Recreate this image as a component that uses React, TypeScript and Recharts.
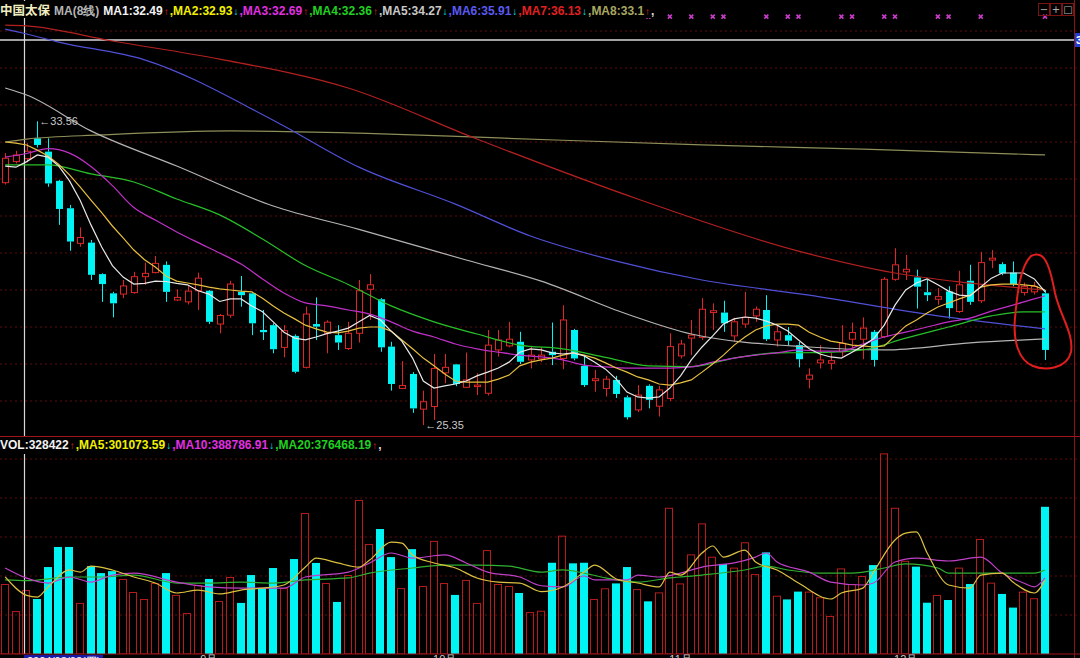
import React from "react";
import {
  ComposedChart,
  Bar,
  Line,
  Scatter,
  XAxis,
  YAxis,
  CartesianGrid,
  ReferenceLine,
  ReferenceDot,
} from "recharts";

// daily candles, oldest first
const opens = [
  31.9, 32.47, 32.55, 33.1, 32.74, 31.95, 31.21, 30.26, 30.28, 29.43,
  28.91, 28.89, 28.93, 29.36, 29.47, 29.68, 28.73, 28.68, 28.98, 28.98,
  28.08, 28.32, 28.95, 28.91, 27.92, 28.05, 27.45, 27.76, 26.91, 28.08,
  27.83, 27.78, 27.42, 27.83, 29.02, 28.75, 27.47, 26.34, 26.73, 25.78,
  25.85, 26.76, 26.99, 26.37, 26.39, 26.21, 27.38, 27.49, 27.6, 27.11,
  27.14, 27.33, 27.15, 27.92, 26.95, 26.55, 26.34, 26.57, 26.1, 25.76,
  26.41, 25.86, 26.07, 27.22, 27.7, 27.72, 28.39, 28.39, 27.76, 28.08,
  28.3, 28.46, 27.65, 27.78, 27.51, 26.59, 27.03, 27.02, 27.33, 27.67,
  27.67, 27.87, 27.74, 29.29, 29.49, 29.34, 28.94, 28.75, 28.96, 28.42,
  29.25, 28.71, 29.81, 29.7, 29.47, 28.93, 28.95, 28.91,
];
const highs = [
  32.7, 32.76, 32.97, 33.56, 33.1, 31.98, 31.3, 30.69, 30.35, 29.45,
  28.95, 29.27, 29.49, 29.74, 29.92, 29.77, 29.02, 29.14, 29.47, 29.0,
  28.35, 29.25, 29.38, 28.95, 28.46, 28.1, 28.05, 27.8, 28.55, 28.8,
  28.18, 28.05, 28.14, 29.27, 29.43, 28.78, 27.6, 27.08, 26.78, 26.28,
  27.27, 27.27, 27.0, 27.31, 26.75, 27.92, 27.92, 28.14, 27.87, 27.49,
  27.45, 28.12, 28.59, 27.95, 27.24, 26.84, 26.68, 26.68, 26.15, 26.43,
  26.45, 26.41, 27.83, 27.65, 28.19, 28.78, 28.64, 28.71, 28.25, 28.95,
  28.55, 28.86, 28.05, 28.0, 27.6, 26.88, 27.51, 27.3, 28.05, 28.12,
  28.26, 27.92, 29.35, 30.13, 29.95, 29.55, 29.27, 29.05, 29.1, 29.52,
  29.68, 30.03, 30.08, 29.75, 29.77, 29.2, 29.22, 29.0,
];
const lows = [
  31.85, 32.42, 32.45, 32.85, 31.79, 30.76, 30.06, 30.17, 29.27, 28.68,
  28.26, 28.78, 28.9, 29.14, 29.45, 28.68, 28.7, 28.61, 28.46, 28.08,
  27.83, 28.25, 28.55, 27.78, 27.65, 27.29, 27.18, 26.75, 26.88, 27.65,
  27.29, 27.38, 27.38, 27.58, 28.19, 27.33, 26.28, 26.32, 25.68, 25.35,
  25.49, 26.48, 26.4, 26.35, 26.16, 26.15, 27.2, 27.45, 27.0, 26.88,
  27.05, 26.97, 26.86, 27.1, 26.38, 26.25, 26.12, 26.08, 25.5, 25.7,
  25.8, 25.58, 26.0, 27.15, 27.24, 27.65, 27.92, 27.87, 27.6, 27.98,
  28.14, 27.62, 27.47, 27.5, 26.91, 26.34, 26.88, 26.85, 27.2, 27.42,
  27.13, 26.93, 27.7, 29.25, 29.27, 28.5, 28.7, 28.6, 28.23, 28.38,
  28.6, 28.65, 29.59, 29.4, 29.1, 28.85, 28.88, 27.11,
];
const closes = [
  32.56, 32.65, 32.75, 32.92, 31.88, 31.19, 30.31, 30.42, 29.41, 29.16,
  28.64, 29.11, 29.36, 29.45, 29.72, 28.95, 28.8, 28.97, 29.32, 28.14,
  28.31, 29.16, 28.86, 28.1, 27.86, 27.4, 27.9, 26.79, 28.35, 28.01,
  28.13, 27.58, 27.83, 28.98, 29.14, 27.45, 26.46, 26.42, 25.8, 25.98,
  26.88, 26.91, 26.46, 26.57, 26.43, 27.51, 27.65, 27.67, 27.06, 27.24,
  27.24, 27.24, 28.19, 27.15, 26.43, 26.6, 26.59, 26.19, 25.56, 26.16,
  26.03, 26.3, 27.47, 27.54, 27.78, 28.48, 28.44, 28.1, 28.14, 28.26,
  28.48, 27.67, 27.87, 27.63, 27.13, 26.7, 27.11, 27.09, 27.56, 27.85,
  27.97, 27.11, 29.29, 29.68, 29.56, 29.09, 28.86, 28.82, 28.51, 29.14,
  28.68, 29.74, 29.86, 29.45, 29.16, 29.09, 29.1, 27.38,
];
// volume, thousand lots
const volumes = [
  359, 220, 328, 282, 446, 549, 549, 262, 451, 415,
  425, 385, 318, 282, 364, 415, 303, 210, 354, 385,
  272, 395, 262, 405, 338, 441, 338, 487, 723, 467,
  364, 267, 405, 790, 564, 641, 497, 338, 538, 349,
  580, 364, 303, 380, 262, 533, 359, 349, 313, 215,
  222, 468, 607, 465, 468, 282, 337, 362, 446, 333,
  270, 316, 750, 362, 511, 670, 499, 462, 443, 573,
  410, 521, 299, 280, 320, 320, 291, 195, 439, 359,
  400, 456, 1029, 750, 478, 448, 263, 303, 277, 443,
  359, 590, 366, 308, 238, 320, 286, 755,
];

// short averages, one value per day
const ma1 = [
  32.35, 32.32, 32.47, 32.65, 32.59, 32.35, 31.95, 31.42, 30.76, 30.16,
  29.66, 29.35, 29.16, 29.18, 29.24, 29.23, 29.18, 29.14, 28.98, 28.89,
  28.69, 28.76, 28.76, 28.57, 28.41, 28.14, 27.86, 27.7, 27.65, 27.73,
  27.82, 27.89, 27.97, 28.14, 28.31, 28.19, 27.89, 27.62, 27.16, 26.54,
  26.35, 26.41, 26.46, 26.54, 26.68, 26.78, 26.89, 27.05, 27.32, 27.41,
  27.38, 27.3, 27.27, 27.3, 27.22, 27.05, 26.86, 26.59, 26.24, 26.11,
  26.08, 26.11, 26.35, 26.68, 27.11, 27.46, 27.76, 28.08, 28.22, 28.27,
  28.24, 28.16, 28.05, 27.89, 27.65, 27.41, 27.27, 27.19, 27.16, 27.32,
  27.49, 27.68, 28.05, 28.59, 29.0, 29.19, 29.3, 29.14, 28.97, 28.86,
  28.84, 29.08, 29.32, 29.46, 29.46, 29.46, 29.3, 28.95,
];
const ma2 = [
  33.0, 32.97, 32.92, 32.78, 32.62, 32.39, 32.11, 31.78, 31.43, 31.09,
  30.73, 30.41, 30.08, 29.82, 29.62, 29.38, 29.24, 29.19, 29.14, 29.08,
  29.03, 29.0, 28.97, 28.95, 28.78, 28.57, 28.38, 28.22, 28.05, 27.95,
  27.86, 27.84, 27.89, 27.97, 28.0, 28.0, 27.89, 27.65, 27.41, 27.16,
  26.95, 26.73, 26.54, 26.51, 26.51, 26.51, 26.59, 26.7, 26.95, 27.05,
  27.11, 27.16, 27.24, 27.3, 27.24, 27.16, 27.03, 26.89, 26.78, 26.65,
  26.57, 26.46, 26.43, 26.49, 26.57, 26.78, 27.0, 27.24, 27.51, 27.73,
  27.92, 28.03, 28.08, 28.08, 28.05, 27.86, 27.73, 27.62, 27.57, 27.51,
  27.49, 27.46, 27.49, 27.76, 28.03, 28.19, 28.38, 28.54, 28.65, 28.76,
  28.86, 29.08, 29.14, 29.16, 29.16, 29.14, 29.11, 29.0,
];

// longer averages, read at [day, value]
const ma3: [number, number][] = [
  [0, 32.59], [2, 32.69], [4, 32.82], [6, 32.7], [8, 32.34], [10, 31.82], [12, 31.23],
  [14, 30.89], [16, 30.57], [18, 30.28], [20, 30.0], [22, 29.7], [24, 29.3], [26, 28.92],
  [28, 28.65], [30, 28.57], [32, 28.46], [34, 28.35], [36, 28.14], [38, 27.89], [40, 27.73],
  [42, 27.54], [44, 27.41], [46, 27.32], [48, 27.24], [50, 27.19], [52, 27.11], [54, 26.97],
  [56, 26.92], [58, 26.89], [60, 26.89], [62, 26.89], [64, 26.92], [66, 27.05], [68, 27.16],
  [70, 27.24], [72, 27.3], [74, 27.38], [76, 27.35], [78, 27.35], [80, 27.54], [82, 27.73],
  [84, 27.86], [86, 28.0], [88, 28.14], [90, 28.24], [92, 28.43], [94, 28.59], [96, 28.76],
  [97, 28.84],
];
const ma4: [number, number][] = [
  [0, 32.38], [4, 32.38], [8, 32.14], [12, 31.92], [16, 31.46], [20, 31.03], [24, 30.38],
  [28, 29.66], [32, 29.15], [36, 28.57], [40, 28.14], [44, 27.81], [48, 27.51], [52, 27.41],
  [56, 27.18], [60, 26.95], [64, 26.93], [68, 27.16], [72, 27.3], [76, 27.31], [80, 27.38],
  [84, 27.7], [88, 28.0], [92, 28.3], [95, 28.41], [97, 28.41],
];
const ma5: [number, number][] = [
  [0, 34.46], [2, 34.27], [8, 33.3], [16, 32.35], [25, 31.27], [33, 30.64], [43, 29.81],
  [50, 29.24], [58, 28.35], [64, 27.81], [75, 27.46], [82, 27.38], [90, 27.57], [97, 27.68],
];
const ma6: [number, number][] = [
  [0, 36.05], [2, 35.92], [5, 35.7], [13, 35.22], [25, 33.59], [33, 32.32], [42, 31.32],
  [49, 30.46], [57, 29.78], [65, 29.27], [75, 28.86], [87, 28.3], [97, 27.95],
];
const ma7: [number, number][] = [
  [0, 36.16], [2, 36.14], [10, 35.73], [20, 35.24], [32, 34.46], [44, 33.08], [59, 31.46],
  [74, 30.05], [83, 29.46], [89, 29.22], [97, 29.0],
];
const ma8: [number, number][] = [
  [0, 33.0], [2, 33.08], [9, 33.19], [21, 33.3], [33, 33.24], [46, 33.11], [65, 32.92],
  [80, 32.81], [97, 32.65],
];

// volume averages, thousand lots
const vma5: [number, number][] = [
  [0, 396], [2, 301], [3, 292], [4, 344], [6, 431], [7, 420], [8, 451], [10, 431], [12, 395],
  [14, 364], [16, 313], [18, 328], [20, 308], [22, 328], [24, 338], [26, 354], [28, 446],
  [29, 492], [31, 467], [33, 446], [34, 482], [36, 574], [37, 569], [38, 508], [40, 467],
  [42, 441], [44, 390], [46, 369], [48, 364], [50, 320], [52, 344], [54, 420], [55, 456],
  [57, 385], [59, 364], [61, 344], [62, 420], [63, 405], [65, 518], [66, 554], [67, 497],
  [69, 533], [70, 472], [72, 431], [74, 364], [77, 282], [78, 313], [80, 338], [81, 420],
  [83, 585], [84, 620], [85, 626], [86, 518], [88, 354], [90, 338], [91, 405], [93, 415],
  [94, 369], [96, 313], [97, 380],
];
const vma10: [number, number][] = [
  [0, 441], [2, 389], [4, 364], [6, 395], [8, 369], [10, 405], [12, 415], [16, 369], [19, 344],
  [22, 338], [26, 338], [28, 395], [32, 420], [34, 467], [36, 518], [38, 492], [41, 508],
  [43, 467], [45, 420], [48, 395], [50, 350], [52, 344], [54, 400], [55, 380], [58, 380],
  [59, 405], [61, 395], [63, 415], [65, 446], [68, 467], [70, 497], [71, 518], [72, 472],
  [75, 420], [77, 369], [80, 354], [81, 364], [83, 472], [85, 492], [88, 477], [91, 497],
  [93, 415], [95, 364], [96, 344], [97, 390],
];
const vma20: [number, number][] = [
  [0, 380], [2, 376], [6, 395], [9, 395], [12, 405], [16, 364], [19, 364], [22, 369], [25, 364],
  [28, 380], [32, 390], [34, 415], [38, 441], [41, 456], [44, 456], [47, 451], [50, 420],
  [52, 431], [54, 415], [56, 390], [59, 369], [62, 390], [65, 405], [69, 431], [71, 451],
  [73, 431], [76, 415], [79, 415], [82, 441], [84, 462], [87, 441], [88, 415], [92, 415],
  [96, 415], [97, 431],
];

const markDays = [60, 62, 64, 66, 67, 71, 73, 74, 78, 79, 82, 83, 87, 88, 91, 97];
const monthTicks = [19, 41, 63, 84];
const monthNames = ["9月", "10月", "11月", "12月"];
const priceGrid = [26, 27, 28, 29, 30, 31, 32, 33, 34, 35, 36];
const volGrid = [200, 400, 600, 800, 1000];

const priceLegend = [
  { label: "MA1:32.49", color: "#f2f2f2", up: true },
  { label: "MA2:32.93", color: "#f0f000", up: false },
  { label: "MA3:32.69", color: "#e030e0", up: true },
  { label: "MA4:32.36", color: "#20d020", up: true },
  { label: "MA5:34.27", color: "#c8c8c8", up: false },
  { label: "MA6:35.91", color: "#5a5af0", up: false },
  { label: "MA7:36.13", color: "#e02020", up: false },
  { label: "MA8:33.1", color: "#a8a860", up: true },
];
const volLegend = [
  { label: "VOL:328422", color: "#f2f2f2", up: true },
  { label: "MA5:301073.59", color: "#f0f000", up: false },
  { label: "MA10:388786.91", color: "#e030e0", up: false },
  { label: "MA20:376468.19", color: "#20d020", up: true },
];

const UP = "#e02626";
const DOWN = "#00f4f4";
const VOL_UP = "#b81b1b";
const GRID = "#5e0c0c";

const W = 1080;
const PRICE_H = 437;
const VOL_TOP = 437;
const VOL_PLOT_H = 217;
const VOL_AXIS_H = 23;
const X_DOMAIN: [number, number] = [-0.485, 100.26];
const PRICE_DOMAIN: [number, number] = [25.027, 36.838];
const VOL_DOMAIN: [number, number] = [0, 1113];
const CURSOR_X = 1.8;
const CURSOR_PRICE = 35.76;
const MARK_LEVEL = 36.39;

const lookup = (pts: [number, number][]) => new Map(pts);
const m3 = lookup(ma3), m4 = lookup(ma4), m5 = lookup(ma5), m6 = lookup(ma6), m7 = lookup(ma7), m8 = lookup(ma8);
const v5 = lookup(vma5), v10 = lookup(vma10), v20 = lookup(vma20);

const rows = opens.map((o, i) => ({
  i,
  open: o,
  high: highs[i],
  low: lows[i],
  close: closes[i],
  vol: volumes[i],
  ma1: ma1[i],
  ma2: ma2[i],
  ma3: m3.get(i),
  ma4: m4.get(i),
  ma5: m5.get(i),
  ma6: m6.get(i),
  ma7: m7.get(i),
  ma8: m8.get(i),
  vma5: v5.get(i),
  vma10: v10.get(i),
  vma20: v20.get(i),
}));

const marks = markDays.map((i) => ({ i, y: MARK_LEVEL }));

let hiIdx = 0;
let loIdx = 0;
highs.forEach((h, i) => { if (h > highs[hiIdx]) hiIdx = i; });
lows.forEach((l, i) => { if (l < lows[loIdx]) loIdx = i; });

const Candle = (p: any) => {
  const { x, y, width, height, payload } = p;
  if (x == null || y == null) return <g />;
  const top = Math.min(y, y + height);
  const h = Math.abs(height);
  const span = payload.high - payload.low || 0.0001;
  const k = h / span;
  const up = payload.close >= payload.open;
  const color = up ? UP : DOWN;
  const cx = Math.round(x + width / 2) + 0.5;
  const bTop = top + (payload.high - Math.max(payload.open, payload.close)) * k;
  const bBot = top + (payload.high - Math.min(payload.open, payload.close)) * k;
  const bh = Math.max(1, bBot - bTop);
  return (
    <g>
      <line x1={cx} x2={cx} y1={top} y2={bTop} stroke={color} />
      <line x1={cx} x2={cx} y1={bTop + bh} y2={top + h} stroke={color} />
      {up ? (
        <rect x={cx - 3} y={bTop} width={6} height={bh} fill="#000" stroke={color} />
      ) : (
        <rect x={cx - 3.5} y={bTop} width={7} height={bh} fill={DOWN} />
      )}
    </g>
  );
};

const VolBar = (p: any) => {
  const { x, y, width, height, payload } = p;
  if (x == null || !height) return <g />;
  const up = payload.close >= payload.open;
  const cx = Math.round(x + width / 2);
  return up ? (
    <rect x={cx - 3.5} y={y + 0.5} width={7} height={height - 0.5} fill="none" stroke={VOL_UP} />
  ) : (
    <rect x={cx - 4} y={y} width={8} height={height} fill={DOWN} />
  );
};

const Cross = (p: any) => {
  const { cx, cy } = p;
  return (
    <path
      d={`M${cx - 2},${cy - 2}L${cx + 2},${cy + 2}M${cx + 2},${cy - 2}L${cx - 2},${cy + 2}`}
      stroke="#c83cc8"
      strokeWidth={1.6}
    />
  );
};

const extremeLabel = (text: string) => (p: any) => (
  <text x={p.cx + 2} y={p.cy + 4} fill="#c8c8c8" fontSize={11} fontFamily="'Liberation Sans', Arial, sans-serif">
    {text}
  </text>
);

type LegendItem = { label: string; color: string; up: boolean };

const Legend = ({ head, items, top }: { head?: React.ReactNode; items: LegendItem[]; top: number }) => (
  <div
    style={{
      position: "absolute",
      left: 0,
      top,
      height: 17,
      paddingRight: 3,
      background: "#000",
      whiteSpace: "nowrap",
      font: "bold 12px 'Liberation Sans', Arial, sans-serif",
      lineHeight: "17px",
    }}
  >
    {head}
    {items.map((it, k) => (
      <span key={k}>
        <span style={{ color: it.color }}>
          {k > 0 ? "," : ""}
          {it.label}
        </span>
        <span style={{ color: it.up ? UP : DOWN, fontWeight: "normal", margin: "0 1px 0 1px", fontSize: 10 }}>
          {it.up ? "↑" : "↓"}
        </span>
      </span>
    ))}
    <span style={{ color: "#ddd" }}>,</span>
  </div>
);

const line = (key: string, color: string, width = 1.2, type: "linear" | "monotone" = "monotone") => (
  <Line
    key={key}
    dataKey={key}
    stroke={color}
    strokeWidth={width}
    dot={false}
    activeDot={false}
    type={type}
    connectNulls
    isAnimationActive={false}
  />
);

export default function App() {
  return (
    <div
      style={{
        position: "fixed",
        left: 0,
        top: 0,
        width: W,
        height: 658,
        background: "#000",
        overflow: "hidden",
        fontFamily: "'Liberation Sans', Arial, sans-serif",
      }}
    >
      {/* price panel */}
      <div style={{ position: "absolute", left: 0, top: 0 }}>
        <ComposedChart width={W} height={PRICE_H} data={rows} margin={{ top: 0, right: 0, bottom: 0, left: 0 }}>
          <CartesianGrid vertical={false} horizontalValues={priceGrid} stroke={GRID} strokeDasharray="2 3" />
          <XAxis type="number" dataKey="i" domain={X_DOMAIN} hide allowDataOverflow />
          <YAxis type="number" domain={PRICE_DOMAIN} hide allowDataOverflow />
          <ReferenceLine y={CURSOR_PRICE} stroke="#d8d8d8" strokeWidth={1.5} />
          <ReferenceLine x={CURSOR_X} stroke="#d8d8d8" strokeWidth={1.2} />
          <Bar
            dataKey={(d: any) => [d.low, d.high]}
            shape={<Candle />}
            barSize={7}
            isAnimationActive={false}
          />
          {line("ma8", "#8e8e58")}
          {line("ma7", "#b22020")}
          {line("ma6", "#5050d8")}
          {line("ma5", "#b4b4b4")}
          {line("ma4", "#28c028")}
          {line("ma3", "#c030c8")}
          {line("ma2", "#e8c040", 1.2, "linear")}
          {line("ma1", "#e8e8e8", 1.2, "linear")}
          <Scatter data={marks} dataKey="y" shape={<Cross />} isAnimationActive={false} />
          <ReferenceDot x={hiIdx} y={highs[hiIdx]} r={0} shape={extremeLabel(`←${highs[hiIdx].toFixed(2)}`)} />
          <ReferenceDot x={loIdx} y={lows[loIdx]} r={0} shape={extremeLabel(`←${lows[loIdx].toFixed(2)}`)} />
        </ComposedChart>
      </div>

      {/* volume panel */}
      <div style={{ position: "absolute", left: 0, top: VOL_TOP }}>
        <ComposedChart
          width={W}
          height={VOL_PLOT_H + VOL_AXIS_H}
          data={rows}
          margin={{ top: 0, right: 0, bottom: 0, left: 0 }}
        >
          <CartesianGrid vertical={false} horizontalValues={volGrid} stroke={GRID} strokeDasharray="2 3" />
          <XAxis
            type="number"
            dataKey="i"
            domain={X_DOMAIN}
            allowDataOverflow
            ticks={monthTicks}
            interval={0}
            tickFormatter={(v: number) => monthNames[monthTicks.indexOf(v)] ?? ""}
            height={VOL_AXIS_H}
            tickSize={0}
            tickMargin={1}
            axisLine={{ stroke: "#a0141a" }}
            tick={{ fill: "#c8c8c8", fontSize: 11 }}
          />
          <YAxis type="number" domain={VOL_DOMAIN} hide allowDataOverflow />
          <ReferenceLine x={CURSOR_X} stroke="#d8d8d8" strokeWidth={1.2} />
          <Bar dataKey="vol" shape={<VolBar />} barSize={8} isAnimationActive={false} />
          {line("vma20", "#30b030")}
          {line("vma10", "#c040c8")}
          {line("vma5", "#dcc040")}
        </ComposedChart>
      </div>

      {/* panel separator and right axis */}
      <div style={{ position: "absolute", left: 0, top: 436, width: W, height: 1, background: "#a0141a" }} />
      <div style={{ position: "absolute", left: 1074, top: 0, width: 1, height: 658, background: "#8a1414" }} />

      {/* legends */}
      <Legend
        top={1}
        items={priceLegend}
        head={
          <>
            <span style={{ color: "#f0eec0", fontFamily: "'Noto Sans CJK SC', sans-serif", fontWeight: "bold", fontSize: 12.5 }}>
              中国太保
            </span>
            <span style={{ color: "#b4b4b4", margin: "0 4px 0 4px" }}>MA(8线)</span>
          </>
        }
      />
      <Legend top={437} items={volLegend} />

      {/* cursor price tag and window buttons */}
      <div
        style={{
          position: "absolute",
          left: 1075,
          top: 33,
          width: 8,
          height: 14,
          background: "#2040d0",
          color: "#fff",
          font: "bold 11px 'Liberation Sans', Arial",
          lineHeight: "14px",
          paddingLeft: 1,
        }}
      >
        3
      </div>
      {["−", "+", "□"].map((s, k) => (
        <div
          key={k}
          style={{
            position: "absolute",
            left: 1038 + k * 12,
            top: 3,
            width: 10,
            height: 11,
            border: "1px solid #7a1414",
            color: "#b0b0b0",
            font: "10px 'DejaVu Sans', sans-serif",
            lineHeight: "11px",
            textAlign: "center",
          }}
        >
          {s}
        </div>
      ))}

      {/* cursor date tag, mostly below the fold */}
      <div
        style={{
          position: "absolute",
          left: 24,
          top: 655,
          padding: "0 3px",
          background: "#1a1aa8",
          color: "#fff",
          font: "11px 'Liberation Sans', Arial",
          lineHeight: "12px",
        }}
      >
        2024/08/08(四)
      </div>

      {/* hand drawn circle around the last day */}
      <svg style={{ position: "absolute", left: 0, top: 0 }} width={W} height={658}>
        <path
          d="M1031,256 C1046,248 1051,272 1055,293 C1060,316 1074,333 1071,352 C1067,369 1045,371 1033,366 C1018,360 1013,340 1015,318 C1017,298 1019,268 1031,256 Z"
          fill="none"
          stroke="#e01e1e"
          strokeWidth={2}
        />
      </svg>
    </div>
  );
}
